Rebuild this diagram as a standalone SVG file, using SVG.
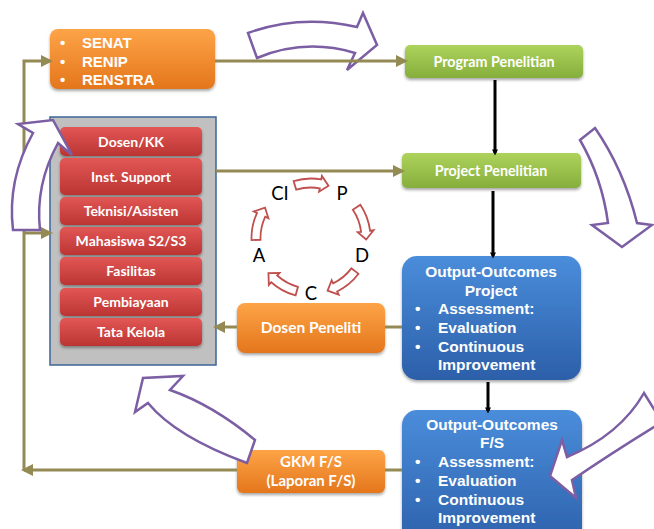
<svg xmlns="http://www.w3.org/2000/svg" xmlns:xlink="http://www.w3.org/1999/xlink" width="654" height="529" viewBox="0 0 654 529">
<defs>
<linearGradient id="gOr" x1="0" y1="0" x2="0" y2="1"><stop offset="0" stop-color="#fda447"/><stop offset="1" stop-color="#e4761c"/></linearGradient>
<linearGradient id="gGr" x1="0" y1="0" x2="0" y2="1"><stop offset="0" stop-color="#add35c"/><stop offset="1" stop-color="#86ae3c"/></linearGradient>
<linearGradient id="gBl" x1="0" y1="0" x2="0" y2="1"><stop offset="0" stop-color="#4a8ddb"/><stop offset="1" stop-color="#2c5fa9"/></linearGradient>
<linearGradient id="gRd" x1="0" y1="0" x2="0" y2="1"><stop offset="0" stop-color="#e25755"/><stop offset="1" stop-color="#bb3533"/></linearGradient>
<filter id="sh" x="-10%" y="-10%" width="120%" height="130%"><feDropShadow dx="0" dy="2" stdDeviation="1.5" flood-color="#000" flood-opacity="0.35"/></filter>
<marker id="oa" viewBox="0 0 10 10" refX="7.5" refY="5" markerWidth="12" markerHeight="12" markerUnits="userSpaceOnUse" orient="auto"><path d="M0,0 L10,5 L0,10 z" fill="#948a54"/></marker>
<marker id="ba" viewBox="0 0 10 10" refX="6" refY="5" markerWidth="7" markerHeight="6" markerUnits="userSpaceOnUse" orient="auto"><path d="M0,0 L10,5 L0,10 z" fill="#000"/></marker>
<path id="cyc" d="M293.6,181.1 A59.5,59.5 0 0 1 321.3,179.4 L321.9,175.9 L328.5,185.7 L319.1,191.7 L319.8,188.3 A50.5,50.5 0 0 0 296.2,189.7 Z"/>
</defs>
<style>
.or{fill:url(#gOr);filter:url(#sh)}
.gr{fill:url(#gGr);filter:url(#sh)}
.bl{fill:url(#gBl);filter:url(#sh)}
.rd{fill:url(#gRd);filter:url(#sh)}
.ta{font-family:"Liberation Sans",Arial,sans-serif;font-weight:bold;fill:#fff}
.tc{font-family:Lato,"Open Sans",sans-serif;font-weight:bold;fill:#fff;text-anchor:middle}
.cy{font-family:Lato,"Open Sans",sans-serif;font-size:18.5px;fill:#000;text-anchor:middle}
.ol{stroke:#948a54;stroke-width:3;fill:none}
.bk{stroke:#000;stroke-width:3;fill:none}
.pu{fill:#fff;stroke:#7b5ea3;stroke-width:2.5;stroke-linejoin:miter}
.ca{fill:#fff;stroke:#c0504d;stroke-width:1.8}
</style>
<rect width="654" height="529" fill="#fff"/>

<g id="senat">
<rect class="or" x="50" y="29" width="165" height="60" rx="8"/>
<g class="ta" font-size="15">
<text x="60" y="48">•</text><text x="82" y="48">SENAT</text>
<text x="60" y="67">•</text><text x="82" y="67">RENIP</text>
<text x="60" y="85">•</text><text x="82" y="85">RENSTRA</text>
</g>
</g>

<g id="program">
<rect class="gr" x="405" y="45" width="178" height="33" rx="5"/>
<text class="tc" x="494" y="67" font-size="14.3">Program Penelitian</text>
</g>

<g id="project">
<rect class="gr" x="402" y="153" width="179" height="35" rx="5"/>
<text class="tc" x="491" y="176" font-size="14.3">Project Penelitian</text>
</g>

<g id="panel">
<rect x="50" y="117" width="166" height="248" fill="#c0c0c0" stroke="#3c6596" stroke-width="1.5"/>
<rect class="rd" x="60" y="127" width="142" height="29" rx="5"/>
<rect class="rd" x="60" y="158" width="142" height="37" rx="5"/>
<rect class="rd" x="60" y="197" width="142" height="28" rx="5"/>
<rect class="rd" x="60" y="227" width="142" height="28" rx="5"/>
<rect class="rd" x="60" y="257" width="142" height="28" rx="5"/>
<rect class="rd" x="60" y="288" width="142" height="28" rx="5"/>
<rect class="rd" x="60" y="318" width="142" height="28" rx="5"/>
<g class="tc" font-size="14">
<text x="131" y="147">Dosen/KK</text>
<text x="131" y="182">Inst. Support</text>
<text x="131" y="216">Teknisi/Asisten</text>
<text x="131" y="246">Mahasiswa S2/S3</text>
<text x="131" y="276">Fasilitas</text>
<text x="131" y="307">Pembiayaan</text>
<text x="131" y="337">Tata Kelola</text>
</g>
</g>

<g id="outProject">
<rect class="bl" x="402" y="256" width="179" height="124" rx="15"/>
<g class="ta" font-size="15.5">
<text x="491" y="277" text-anchor="middle">Output-Outcomes</text>
<text x="491" y="296" text-anchor="middle">Project</text>
<text x="415" y="314">•</text><text x="438" y="314">Assessment:</text>
<text x="415" y="333">•</text><text x="438" y="333">Evaluation</text>
<text x="415" y="352">•</text><text x="438" y="352">Continuous</text>
<text x="438" y="370">Improvement</text>
</g>
</g>

<g id="outFS">
<rect class="bl" x="402" y="410" width="180" height="140" rx="15"/>
<g class="ta" font-size="15.5">
<text x="492" y="430" text-anchor="middle">Output-Outcomes</text>
<text x="492" y="448" text-anchor="middle">F/S</text>
<text x="415" y="467">•</text><text x="438" y="467">Assessment:</text>
<text x="415" y="486">•</text><text x="438" y="486">Evaluation</text>
<text x="415" y="505">•</text><text x="438" y="505">Continuous</text>
<text x="438" y="523">Improvement</text>
</g>
</g>

<g id="dosenPeneliti">
<rect class="or" x="237" y="303" width="148" height="50" rx="8"/>
<text class="tc" x="311" y="333" font-size="15.5">Dosen Peneliti</text>
</g>

<g id="gkm">
<rect class="or" x="237" y="450" width="148" height="43" rx="6"/>
<text class="tc" x="311" y="467" font-size="15">GKM F/S</text>
<text class="tc" x="311" y="486" font-size="15">(Laporan F/S)</text>
</g>

<g id="cycle">
<text class="cy" x="280" y="200">CI</text>
<text class="cy" x="342" y="200">P</text>
<text class="cy" x="362" y="262">D</text>
<text class="cy" x="259" y="262">A</text>
<text class="cy" x="311" y="300">C</text>
<use xlink:href="#cyc" class="ca"/>
<use xlink:href="#cyc" class="ca" transform="rotate(73 311 238)"/>
<use xlink:href="#cyc" class="ca" transform="rotate(144 311 238)"/>
<use xlink:href="#cyc" class="ca" transform="rotate(212 311 238)"/>
<use xlink:href="#cyc" class="ca" transform="rotate(285 311 238)"/>
</g>

<g id="bigArrowTop">
<path class="pu" d="M248,33 Q300,14 357,27 L363,13 L377,45 L347,70 L355,53 Q305,38 257,58 Z"/>
</g>

<g id="connectors">
<line class="ol" x1="215" y1="61" x2="405" y2="61" marker-end="url(#oa)"/>
<line class="ol" x1="216" y1="171" x2="402" y2="171" marker-end="url(#oa)"/>
<line class="ol" x1="402" y1="327" x2="385" y2="327"/>
<line class="ol" x1="237" y1="327" x2="216" y2="327" marker-end="url(#oa)"/>
<line class="ol" x1="402" y1="470" x2="385" y2="470"/>
<line class="ol" x1="237" y1="470" x2="24" y2="470" marker-end="url(#oa)"/>
<polyline class="ol" points="24,470 24,61 50,61" marker-end="url(#oa)"/>
<line class="ol" x1="24" y1="233" x2="50" y2="233" marker-end="url(#oa)"/>
<line class="bk" x1="495" y1="80" x2="495" y2="153" marker-end="url(#ba)"/>
<line class="bk" x1="493" y1="191" x2="493" y2="256" marker-end="url(#ba)"/>
<line class="bk" x1="488" y1="382" x2="488" y2="411" marker-end="url(#ba)"/>
</g>

<g id="bigArrows">
<path class="pu" d="M580,140 L595,128 Q624,170 637,223 L652,225 L622,247 L592,225 L608,223 Q602,178 580,140 Z"/>
<path class="pu" d="M644,393 Q620,435 567,457 L562,440 L550,476 L576,498 L572,480 Q613,452 662,422 Z"/>
<path class="pu" d="M255,440 Q213,405 170,390 L183,376 L143,378 L135,412 L148,403 Q176,437 247,463 Z"/>
<path class="pu" d="M13,230 Q7,180 33,133 L18,124 L53,120 L72,155 L58,143 Q35,185 40,230 Z"/>
</g>
</svg>
